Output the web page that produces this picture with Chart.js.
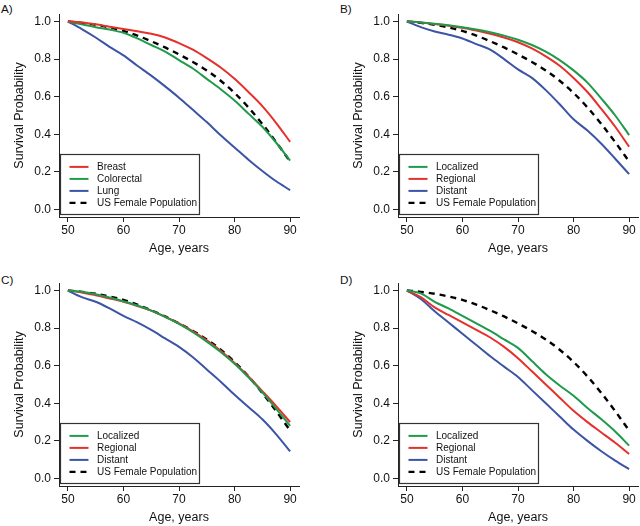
<!DOCTYPE html>
<html>
<head>
<meta charset="utf-8">
<script src="https://cdn.jsdelivr.net/npm/chart.js@4.4.0/dist/chart.umd.min.js"></script>
<style>
  body { margin:0; width:640px; height:526px; overflow:hidden; background:#fff; font-family:"Liberation Sans", Arial, sans-serif; }
  .panel { position:absolute; width:300px; height:263px; }
  .tag { position:absolute; font-size:11.7px; color:#111; }
</style>
</head>
<body>
<div class="tag" style="left:1px;top:2px">A)</div>
<div class="tag" style="left:340px;top:2px">B)</div>
<div class="tag" style="left:1px;top:273px">C)</div>
<div class="tag" style="left:340px;top:273px">D)</div>
<div class="panel" style="left:0;top:0"><canvas id="chartA"></canvas></div>
<div class="panel" style="left:339px;top:0"><canvas id="chartB"></canvas></div>
<div class="panel" style="left:0;top:269px"><canvas id="chartC"></canvas></div>
<div class="panel" style="left:339px;top:269px"><canvas id="chartD"></canvas></div>
<script>
// ages every 2.5 years, 50..90
const ages = [50, 52.5, 55, 57.5, 60, 62.5, 65, 67.5, 70, 72.5, 75, 77.5, 80, 82.5, 85, 87.5, 90];
const xTicks = [50, 60, 70, 80, 90];
const yTicks = [0, 0.2, 0.4, 0.6, 0.8, 1.0];

// US female population (same reference in every panel)
const usFemale = [1.0, 0.993, 0.983, 0.968, 0.95, 0.925, 0.895, 0.862, 0.825, 0.785, 0.74, 0.685, 0.62, 0.543, 0.455, 0.358, 0.255];

// A) by cancer site
const breast     = [1.0, 0.995, 0.985, 0.972, 0.96, 0.948, 0.935, 0.915, 0.885, 0.85, 0.805, 0.755, 0.695, 0.625, 0.55, 0.46, 0.36];
const colorectal = [1.0, 0.985, 0.97, 0.957, 0.94, 0.91, 0.875, 0.84, 0.795, 0.75, 0.695, 0.64, 0.58, 0.51, 0.44, 0.355, 0.26];
const lung       = [1.0, 0.96, 0.915, 0.865, 0.82, 0.765, 0.712, 0.655, 0.595, 0.53, 0.465, 0.395, 0.33, 0.265, 0.205, 0.15, 0.103];

// B) breast by stage
const bLocalized = [1.0, 0.995, 0.988, 0.98, 0.97, 0.958, 0.943, 0.925, 0.903, 0.875, 0.84, 0.795, 0.74, 0.675, 0.59, 0.5, 0.396];
const bRegional  = [1.0, 0.995, 0.987, 0.978, 0.967, 0.952, 0.935, 0.915, 0.89, 0.857, 0.815, 0.765, 0.70, 0.625, 0.535, 0.44, 0.334];
const bDistant   = [1.0, 0.97, 0.947, 0.93, 0.91, 0.88, 0.85, 0.8, 0.745, 0.7, 0.635, 0.56, 0.48, 0.42, 0.35, 0.27, 0.188];

// C) colorectal by stage
const cLocalized = [1.0, 0.993, 0.98, 0.963, 0.943, 0.92, 0.893, 0.86, 0.822, 0.778, 0.728, 0.673, 0.61, 0.538, 0.458, 0.37, 0.28];
const cRegional  = [1.0, 0.99, 0.975, 0.958, 0.94, 0.918, 0.893, 0.86, 0.825, 0.783, 0.735, 0.68, 0.615, 0.543, 0.465, 0.385, 0.30];
const cDistant   = [1.0, 0.965, 0.94, 0.905, 0.865, 0.83, 0.79, 0.745, 0.70, 0.645, 0.58, 0.515, 0.445, 0.38, 0.315, 0.235, 0.144];

// D) lung by stage
const dLocalized = [1.0, 0.985, 0.94, 0.905, 0.865, 0.825, 0.785, 0.74, 0.695, 0.625, 0.555, 0.495, 0.44, 0.375, 0.315, 0.25, 0.175];
const dRegional  = [1.0, 0.965, 0.91, 0.87, 0.83, 0.79, 0.75, 0.7, 0.64, 0.57, 0.50, 0.43, 0.36, 0.30, 0.245, 0.19, 0.13];
const dDistant   = [1.0, 0.955, 0.89, 0.83, 0.77, 0.71, 0.65, 0.595, 0.54, 0.47, 0.40, 0.33, 0.26, 0.20, 0.145, 0.095, 0.05];

const RED = '#e5302b', GREEN = '#1f9a4b', BLUE = '#3b54a5', BLACK = '#000';
const FONT = '"Liberation Sans", Arial, sans-serif';

function pts(vals) {
  return vals.map((v, i) => ({ x: ages[i], y: v }));
}

function line(label, vals, color, dashed) {
  return {
    label: label,
    data: pts(vals),
    borderColor: color,
    borderWidth: dashed ? 2.4 : 2,
    borderDash: dashed ? [6, 5] : [],
    pointRadius: 0,
    fill: false,
    cubicInterpolationMode: 'monotone'
  };
}

// legend box drawn inside the lower-left of the plot
const boxLegend = {
  id: 'boxLegend',
  afterDatasetsDraw(chart) {
    const { ctx, chartArea } = chart;
    const x = chartArea.left + 1.5, y = chartArea.bottom - 62.5, w = 139, h = 60;
    ctx.save();
    ctx.fillStyle = '#fff';
    ctx.fillRect(x, y, w, h);
    ctx.strokeStyle = '#333';
    ctx.lineWidth = 1.2;
    ctx.strokeRect(x, y, w, h);
    chart.data.datasets.forEach((ds, i) => {
      const ry = y + 12.4 + i * 12;
      ctx.beginPath();
      ctx.setLineDash(ds.borderDash || []);
      ctx.strokeStyle = ds.borderColor;
      ctx.lineWidth = ds.borderWidth;
      ctx.moveTo(x + 9, ry);
      ctx.lineTo(x + 28, ry);
      ctx.stroke();
      ctx.setLineDash([]);
      ctx.fillStyle = '#111';
      ctx.font = '10px ' + FONT;
      ctx.textBaseline = 'middle';
      ctx.fillText(ds.label, x + 36.5, ry);
    });
    ctx.restore();
  }
};

function makeChart(id, datasets) {
  return new Chart(document.getElementById(id), {
    type: 'line',
    data: { datasets: datasets },
    plugins: [boxLegend],
    options: {
      responsive: true,
      maintainAspectRatio: false,
      animation: false,
      layout: { padding: { top: 14, right: 1, left: 0, bottom: 0 } },
      plugins: { legend: { display: false }, tooltip: { enabled: false } },
      scales: {
        x: {
          type: 'linear',
          min: 48.4, max: 91.6,
          afterBuildTicks: s => { s.ticks = xTicks.map(v => ({ value: v })); },
          afterFit: s => { s.height = 46; },
          grid: { drawOnChartArea: false, drawTicks: true, tickLength: 5, color: '#222' },
          border: { display: true, color: '#222', width: 1 },
          ticks: { color: '#111', font: { family: FONT, size: 12 }, padding: 1, maxRotation: 0 },
          title: { display: true, text: 'Age, years', color: '#111', font: { family: FONT, size: 12.5 }, padding: { bottom: 7 } }
        },
        y: {
          type: 'linear',
          min: -0.04, max: 1.04,
          afterBuildTicks: s => { s.ticks = yTicks.map(v => ({ value: v })); },
          afterFit: s => { s.width = 59; },
          grid: { drawOnChartArea: false, drawTicks: true, tickLength: 5, color: '#222' },
          border: { display: true, color: '#222', width: 1 },
          ticks: { color: '#111', font: { family: FONT, size: 12 }, padding: 3, callback: v => v.toFixed(1) },
          title: { display: true, text: 'Survival Probability', color: '#111', font: { family: FONT, size: 12.5 }, padding: { top: 12 } }
        }
      }
    }
  });
}

makeChart('chartA', [
  line('Breast', breast, RED),
  line('Colorectal', colorectal, GREEN),
  line('Lung', lung, BLUE),
  line('US Female Population', usFemale, BLACK, true)
]);
makeChart('chartB', [
  line('Localized', bLocalized, GREEN),
  line('Regional', bRegional, RED),
  line('Distant', bDistant, BLUE),
  line('US Female Population', usFemale, BLACK, true)
]);
makeChart('chartC', [
  line('Localized', cLocalized, GREEN),
  line('Regional', cRegional, RED),
  line('Distant', cDistant, BLUE),
  line('US Female Population', usFemale, BLACK, true)
]);
makeChart('chartD', [
  line('Localized', dLocalized, GREEN),
  line('Regional', dRegional, RED),
  line('Distant', dDistant, BLUE),
  line('US Female Population', usFemale, BLACK, true)
]);
</script>
</body>
</html>
